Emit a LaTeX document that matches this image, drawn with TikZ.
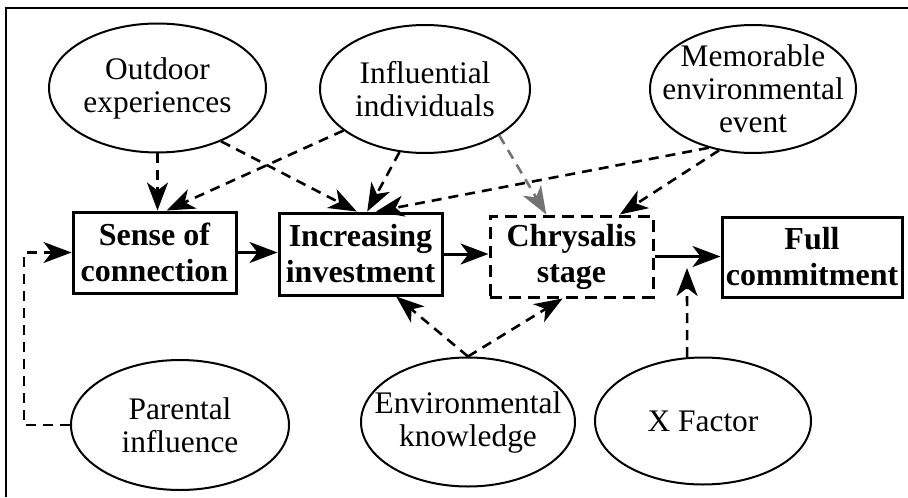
\documentclass[tikz,border=0pt]{standalone}
\usepackage{fontspec}
\setmainfont{Liberation Serif}
\usetikzlibrary{arrows.meta,shapes.geometric,positioning}

\begin{document}
\begin{tikzpicture}[x=0.5pt,y=-0.5pt,
  >={Stealth[length=14pt,width=10.5pt,inset=4pt]},
  oval/.style={draw,ellipse,line width=1pt,inner sep=-6pt,align=center,font=\fontsize{15.7}{16.5}\selectfont},
  stage/.style={draw,rectangle,line width=1.5pt,inner sep=0pt,align=center,font=\fontsize{16}{18}\selectfont\bfseries},
  link/.style={->,line width=1.3pt,dash pattern=on 5pt off 3.5pt},
  flow/.style={->,line width=1.5pt}]
\useasboundingbox (0,0) rectangle (908,497);
\draw [line width=1.2pt] (6,497) -- (6,8) -- (908,8);
\node [oval,minimum width=108.5pt,minimum height=64.5pt] (outdoor) at (157.5,88) {Outdoor\\experiences};
\node [oval,minimum width=105pt,minimum height=64pt] (infl) at (425,89) {Influential\\individuals};
\node [oval,inner sep=-14pt,minimum width=103pt,minimum height=64pt] (memo) at (753,89) {Memorable\\environmental\\event};
\node [oval,minimum width=109pt,minimum height=65pt] (par) at (180,425) {Parental\\influence};
\node [oval,inner sep=-11pt,minimum width=107pt,minimum height=64.5pt] (env) at (468,422) {Environmental\\knowledge};
\node [oval,minimum width=108pt,minimum height=63.5pt] (xf) at (703,421) {X Factor};
\node [stage,minimum width=81.5pt,minimum height=40.5pt] (sense) at (154.5,252.5) {Sense of\\connection};
\node [stage,minimum width=81.5pt,minimum height=41pt] (incr) at (360.5,254) {Increasing\\investment};
\node [stage,dash pattern=on 6pt off 3.5pt,minimum width=81.5pt,minimum height=40.5pt] (chrys) at (571.5,256.5) {Chrysalis\\stage};
\node [stage,minimum width=90pt,minimum height=40pt] (full) at (812,257) {Full\\commitment};
\coordinate (xhit) at (687,268);
\draw [flow] (sense.east) -- (sense.east -| incr.west);
\draw [flow] (incr.east) -- (incr.east -| chrys.west);
\draw [flow] (chrys.east) -- (chrys.east -| full.west);
\draw [link] (outdoor.south) -- (outdoor.south |- sense.north);
\draw [link] (outdoor.-40) -- (incr.95);
\draw [link] (infl.207) -- (sense.74);
\draw [link] (infl.248) -- (incr.81);
\draw [link,black!55] (infl.-32) -- (chrys.121);
\draw [link] (memo.233.5) -- (incr.70.5);
\draw [link] (memo.241) -- (chrys.41.7);
\draw [link] (env.north) -- (incr.-50);
\draw [link] (env.north) -- (chrys.-102);
\draw [link] (xf.104) -- (xhit);
\draw [link] (par.west) -- ++(-46,0) |- (sense.west);
\end{tikzpicture}
\end{document}
